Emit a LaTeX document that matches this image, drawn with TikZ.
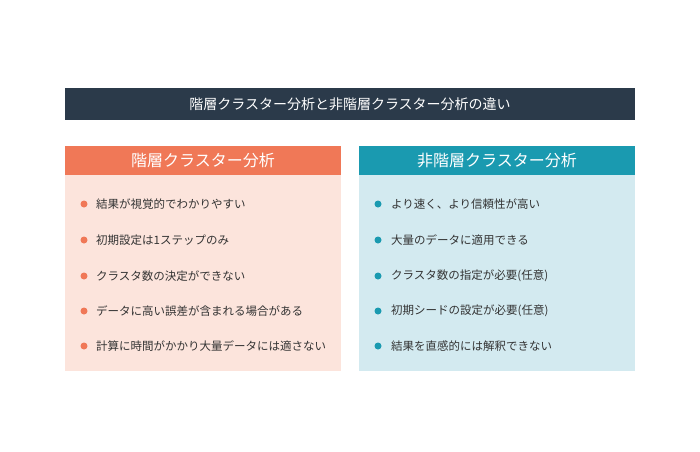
\documentclass[tikz,border=0pt]{standalone}
\usepackage{fontspec}
\setmainfont{Noto Sans CJK JP}
\definecolor{navy}{HTML}{2B3A4A}
\definecolor{orng}{HTML}{F07857}
\definecolor{orngbg}{HTML}{FCE4DC}
\definecolor{teal}{HTML}{1A9AB0}
\definecolor{tealbg}{HTML}{D3EAF0}
\definecolor{txt}{HTML}{333333}
\tikzset{
 item/.style={anchor=west,inner sep=0pt,font=\fontsize{11.5}{13}\selectfont,text=txt},
 dot/.style={circle,inner sep=0pt,minimum size=7pt},
 hdr/.style={text=white,font=\fontsize{16}{18}\selectfont}
}
\begin{document}
\begin{tikzpicture}[x=1pt,y=-1pt]
\useasboundingbox[fill=white] (0,0) rectangle (700,451);
\fill[navy] (65,88) rectangle (635,120);
\node[text=white,font=\fontsize{14}{16}\selectfont] (title) at (350,104) {階層クラスター分析と非階層クラスター分析の違い};
\fill[orng] (65,146) rectangle (341,175);
\fill[orngbg] (65,175) rectangle (341,371);
\fill[teal] (359,146) rectangle (635,175);
\fill[tealbg] (359,175) rectangle (635,371);
\node[hdr] (lh) at (203,160.5) {階層クラスター分析};
\node[hdr] (rh) at (497,160.5) {非階層クラスター分析};
\foreach \y/\t [count=\i] in {204/結果が視覚的でわかりやすい,240/初期設定は1ステップのみ,276/クラスタ数の決定ができない,311/データに高い誤差が含まれる場合がある,346/計算に時間がかかり大量データには適さない}{
 \node[dot,fill=orng] (ld\i) at (84,\y) {};
 \node[item] (lt\i) at (96,\y) {\t};
}
\foreach \y/\t [count=\i] in {204/より速く、より信頼性が高い,240/大量のデータに適用できる,276/クラスタ数の指定が必要(任意),311/初期シードの設定が必要(任意),346/結果を直感的には解釈できない}{
 \node[dot,fill=teal] (rd\i) at (378,\y) {};
 \node[item] (rt\i) at (391,\y) {\t};
}
\end{tikzpicture}
\end{document}
